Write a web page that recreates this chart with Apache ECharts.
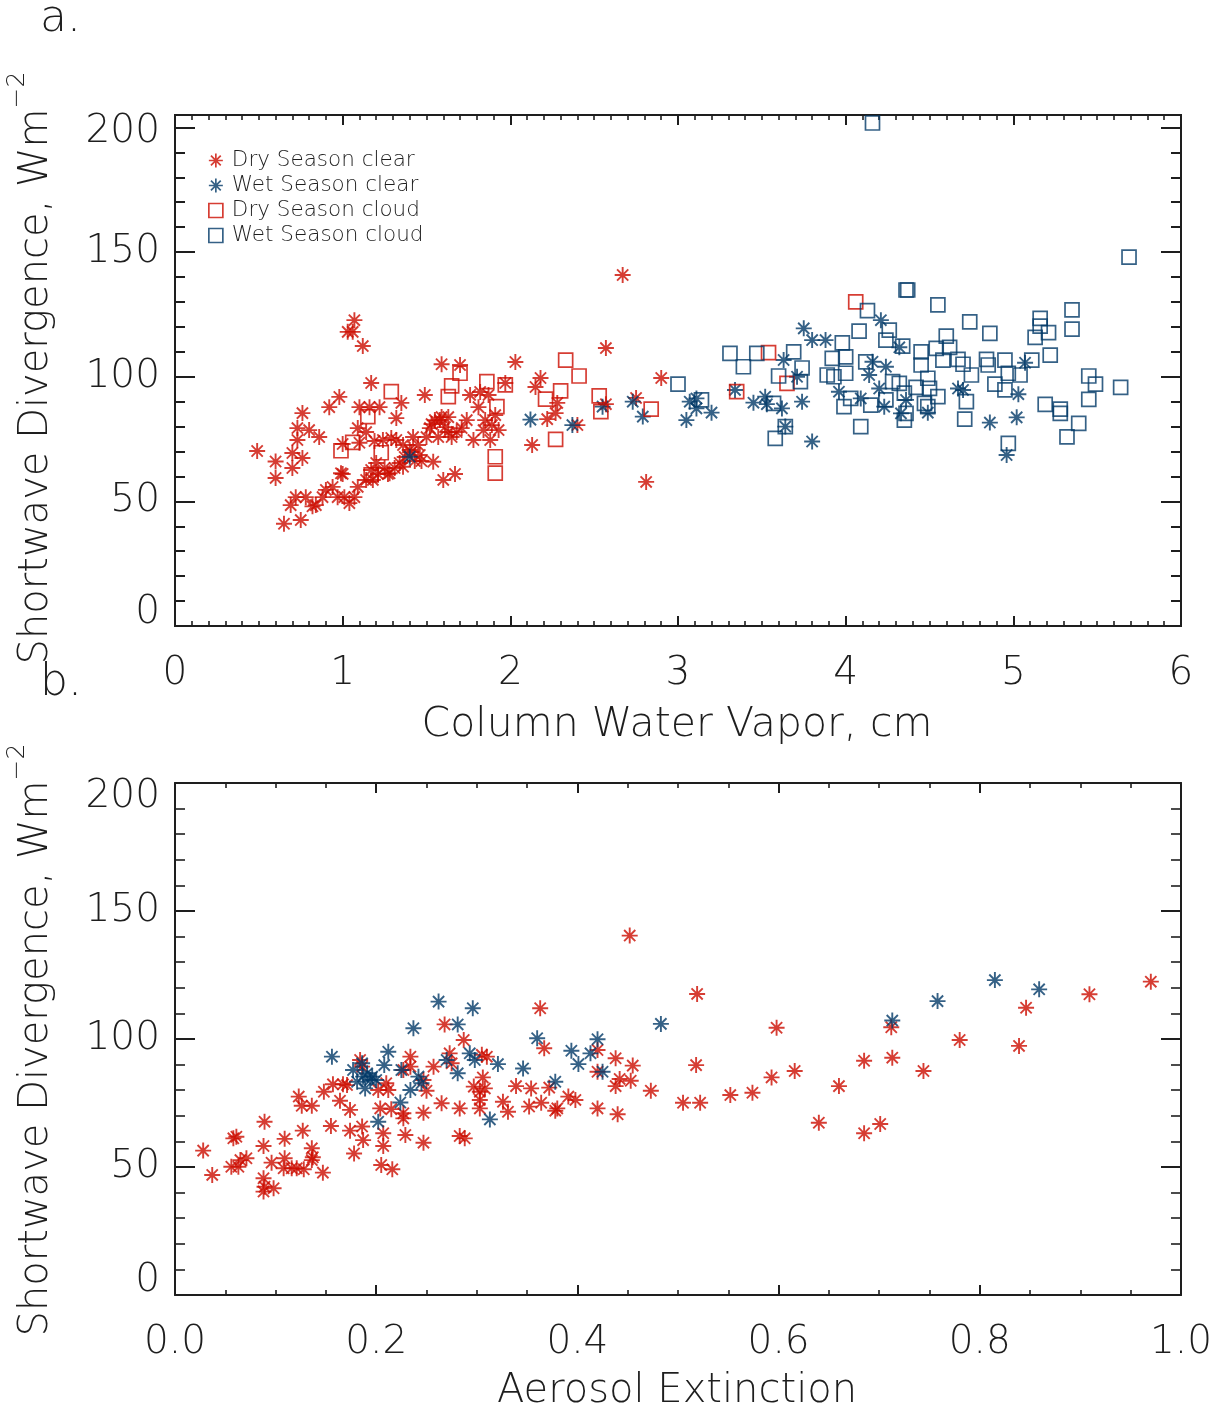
<!DOCTYPE html>
<html><head><meta charset="utf-8">
<script src="https://cdn.jsdelivr.net/npm/echarts@6/dist/echarts.min.js"></script>
<style>html,body{margin:0;padding:0;background:#fff}#c{width:1220px;height:1416px}</style>
</head><body><div id="c"></div>
<script>
// ---------- DATA ----------
const legendNames = ['Dry Season clear','Wet Season clear','Dry Season cloud','Wet Season cloud'];
const xTicksA = [0,1,2,3,4,5,6];
const xTicksB = ['0.0','0.2','0.4','0.6','0.8','1.0'];
const yTicks = [0,50,100,150,200];

// Panel a: x = column water vapor (cm), y = shortwave divergence (W m^-2)
const aDryClear = [[0.49,70.2],[0.60,66],[0.60,59.4],[0.65,41],[0.69,48.5],[0.70,69.4],[0.70,63.4],[0.72,51.7],[0.73,79.4],[0.73,74.6],[0.75,42.5],[0.76,85.4],[0.76,67.4],[0.78,51.7],[0.80,78.6],[0.82,48],[0.84,48.5],[0.86,75.8],[0.88,51.7],[0.90,54.6],[0.92,87.8],[0.94,55.8],[0.97,51.7],[0.98,91.9],[1.00,73],[1.00,61],[1.01,51.7],[1.03,118],[1.04,49.3],[1.06,118],[1.07,122.7],[1.07,51.7],[1.09,79.4],[1.09,55.8],[1.10,87.8],[1.12,112.3],[1.14,77.8],[1.14,58.6],[1.16,87.8],[1.17,97.5],[1.17,62.6],[1.19,74.2],[1.20,65.4],[1.21,61],[1.22,87.8],[1.24,74.6],[1.25,63.4],[1.27,61],[1.29,75.4],[1.31,63.4],[1.32,74.6],[1.32,83.4],[1.34,65.4],[1.35,89.5],[1.36,72.6],[1.37,67.8],[1.40,70.6],[1.42,75.8],[1.43,66.2],[1.45,72.6],[1.47,66.2],[1.49,92.7],[1.50,75.8],[1.52,79.4],[1.55,82.6],[1.57,75.8],[1.58,82.6],[1.59,105],[1.59,83.8],[1.60,58.6],[1.61,79.8],[1.63,77.8],[1.65,75.8],[1.67,61],[1.70,104.7],[1.71,79.4],[1.74,82.6],[1.76,92.7],[1.78,74.6],[1.81,87.8],[1.82,93.9],[1.84,78.6],[1.85,82.6],[1.87,92.7],[1.88,74.6],[1.89,80.6],[1.91,84.6],[1.93,78.6],[1.97,97.5],[2.03,105.9],[2.13,72.6],[2.15,95.9],[2.18,99.5],[2.22,83],[2.27,85.4],[2.28,89.5],[2.40,80.6],[2.57,89],[2.57,111.5],[2.67,140.8],[2.75,91.5],[2.81,57.8],[2.90,99.5],[1.41,69.8],[1.46,68.6],[1.53,81],[1.63,83.8],[1.68,77.8],[1.18,58.6],[1.28,61.3],[1.36,63.9],[1.54,65.9],[0.99,61.3],[1.10,73.5]];
const aWetClear = [[1.40,67.9],[2.12,82.8],[2.37,80.6],[2.55,88],[2.73,90],[2.79,84],[3.05,82.6],[3.07,90],[3.11,91.3],[3.11,87.3],[3.20,85.6],[3.34,94.7],[3.45,89.6],[3.52,92],[3.53,89],[3.62,87.3],[3.63,106.7],[3.71,100],[3.74,90],[3.75,119.4],[3.64,80],[3.80,114.7],[3.88,114.7],[3.80,74],[3.96,94],[4.09,91.3],[4.14,100.7],[4.16,106],[4.21,122.7],[4.24,104],[4.20,95.3],[4.23,88],[4.32,111.8],[4.36,90.7],[4.33,85.3],[4.49,85.6],[4.67,95.3],[4.70,94.7],[4.86,81.6],[5.02,83.7],[5.03,93],[5.07,105.6],[4.96,68.6]];
const aDryCloud = [[1.29,94],[1.65,96.3],[1.70,101.4],[1.63,92],[1.86,98],[0.99,70.3],[1.06,73.7],[1.23,69.5],[1.15,84],[1.17,60.6],[1.91,61.3],[1.91,67.9],[1.92,88],[1.97,96.7],[2.33,106.7],[2.41,100.3],[2.30,94.3],[2.21,91],[2.27,74.9],[2.53,92.3],[2.54,86],[2.84,87],[3.35,94],[3.65,97.3],[3.54,109.7],[4.06,130]];
const aWetCloud = [[3.31,109.4],[3.39,104],[3.47,109.4],[3.69,110],[3.00,97],[3.14,90.7],[3.58,75.3],[3.57,89.3],[3.74,103.5],[3.60,100.3],[3.64,80],[3.73,98],[3.89,100.7],[3.93,100],[3.98,113.6],[3.92,107.4],[4.00,108],[4.00,101.4],[3.99,88],[4.03,91.3],[4.08,118.3],[4.13,126.5],[4.09,80],[4.12,106],[4.15,88.6],[4.24,114.7],[4.26,118.7],[4.34,112.3],[4.36,134.8],[4.37,134.8],[4.32,97.3],[4.28,98],[4.24,90.7],[4.35,93.4],[4.36,85.3],[4.35,82.6],[4.45,110],[4.45,104.7],[4.42,95.7],[4.49,99.4],[4.50,95.3],[4.47,89.3],[4.49,88],[4.55,128.8],[4.54,111.4],[4.58,106.7],[4.55,92],[4.60,116.3],[4.62,111.8],[4.67,107],[4.70,105],[4.72,90],[4.71,83],[4.74,122],[4.75,100.7],[4.84,107],[4.86,117.4],[4.85,104.7],[4.89,97],[4.95,106.7],[4.97,101.4],[4.95,94.7],[4.97,73.3],[5.16,123.4],[5.16,120.3],[5.21,117.7],[5.13,115.8],[5.22,108.7],[5.19,88.9],[5.28,87],[5.28,85.3],[5.35,126.8],[5.35,119.1],[5.45,100.3],[5.49,97],[5.45,90.9],[5.39,81.3],[5.32,75.9],[5.64,95.7],[5.69,148],[4.16,201.8],[5.11,106.7],[5.04,100.7]];

// Panel b: x = aerosol extinction, y = shortwave divergence (clear sky only)
const bDryClear = [[0.028,56.4],[0.037,46.9],[0.058,61.2],[0.061,61.8],[0.056,50.1],[0.065,52.7],[0.071,53.4],[0.063,50.1],[0.089,67.7],[0.088,58.2],[0.088,45.6],[0.089,42.3],[0.088,40.4],[0.098,41.7],[0.096,51.7],[0.108,49.5],[0.109,53.4],[0.109,61],[0.116,49.5],[0.121,49.5],[0.128,49.1],[0.127,64.2],[0.123,77.5],[0.126,73.9],[0.136,73.9],[0.136,57.3],[0.137,53.8],[0.136,52.7],[0.147,47.8],[0.148,79.4],[0.157,82.3],[0.167,82.3],[0.171,82],[0.164,75.9],[0.155,66],[0.174,72.3],[0.178,55.3],[0.174,64.2],[0.186,65.8],[0.187,60.5],[0.184,91.8],[0.186,89.2],[0.202,80.1],[0.210,82.7],[0.212,80.1],[0.204,72.9],[0.215,72.6],[0.227,71],[0.207,63.2],[0.207,58.2],[0.205,50.8],[0.216,49.1],[0.229,62.5],[0.227,69],[0.234,93.1],[0.227,87.9],[0.234,89.2],[0.247,59.5],[0.247,71.2],[0.247,84],[0.250,79.8],[0.257,89.2],[0.265,74.9],[0.268,105.7],[0.273,94.4],[0.275,90.5],[0.287,99.6],[0.283,72.9],[0.283,62.1],[0.288,61.2],[0.297,81.4],[0.303,79.4],[0.308,80.7],[0.306,85],[0.303,76.2],[0.303,72.9],[0.305,93.8],[0.310,93.1],[0.326,75.5],[0.331,71.6],[0.452,140.4],[0.519,117.6],[0.363,112],[0.367,96.4],[0.598,104.4],[0.518,89.8],[0.712,104.6],[0.713,92.7],[0.685,91.5],[0.780,99.6],[0.839,97.3],[0.846,112.2],[0.909,117.5],[0.970,122.4],[0.744,87.5],[0.660,81.6],[0.616,87.5],[0.593,85],[0.574,79],[0.552,78.1],[0.522,75.1],[0.505,75.1],[0.640,67.3],[0.685,63.2],[0.701,66.8],[0.473,79.8],[0.455,89.6],[0.453,83.7],[0.438,92.5],[0.442,84.4],[0.438,81.6],[0.440,70.6],[0.420,95.7],[0.420,87.2],[0.420,72.9],[0.398,76.2],[0.391,77.5],[0.380,72.9],[0.378,72],[0.372,81],[0.364,75.1],[0.354,80.7],[0.352,73.6],[0.339,81.6]];
const bWetClear = [[0.156,93.1],[0.177,87.9],[0.186,90.5],[0.187,85.3],[0.191,86.6],[0.194,84],[0.189,80.7],[0.181,83.3],[0.200,84],[0.196,85.3],[0.202,67.7],[0.208,89.8],[0.212,95],[0.225,87.9],[0.234,80.1],[0.237,104.2],[0.242,85.3],[0.245,82.7],[0.224,75.2],[0.262,114.6],[0.281,105.7],[0.270,91.8],[0.281,86.6],[0.296,112],[0.293,94.4],[0.298,91.8],[0.321,90.2],[0.313,68.6],[0.346,88.5],[0.360,100.3],[0.378,83.3],[0.394,95.4],[0.401,90.2],[0.413,94.4],[0.420,99.9],[0.425,87.2],[0.483,105.9],[0.713,107.2],[0.758,114.8],[0.815,123],[0.859,119.4]];

// ---------- STYLE ----------
const RED = '#cc0c00', BLUE = '#023a68', INK = '#1e1e1e';
const FONT = "'DejaVu Sans', sans-serif";
const FW = 200;
const AST = 'path://M10 0L10 20M0 10L20 10M3 3L17 17M3 17L17 3';

const chart = echarts.init(document.getElementById('c'), null, {renderer: 'canvas'});

function xAxis(grid, pos, max, interval, minorSplit, labels, fmt) {
  return {
    type: 'value', gridIndex: grid, position: pos, min: 0, max: max, interval: interval,
    axisLine: {show: true, onZero: false, lineStyle: {color: INK, width: 2}},
    axisTick: {show: true, inside: true, length: 10, lineStyle: {color: INK, width: 2}},
    minorTick: {show: true, splitNumber: minorSplit, length: 5, lineStyle: {color: INK, width: 1.6}},
    splitLine: {show: false}, minorSplitLine: {show: false},
    axisLabel: {show: labels, margin: 28, fontSize: 39, fontFamily: FONT, fontWeight: FW, color: INK, formatter: fmt}
  };
}
function yAxis(grid, pos, max, interval, tickLen, labels, fmt, rich, minor) {
  const o = {
    type: 'value', gridIndex: grid, position: pos, min: 0, max: max, interval: interval,
    axisLine: {show: true, onZero: false, lineStyle: {color: INK, width: 2}},
    axisTick: {show: true, inside: true, length: tickLen, lineStyle: {color: INK, width: 2}},
    splitLine: {show: false}, minorSplitLine: {show: false},
    axisLabel: {show: labels, margin: 15, fontSize: 39, fontFamily: FONT, fontWeight: FW, color: INK, formatter: fmt, rich: rich}
  };
  if (minor) o.minorTick = {show: true, splitNumber: 5, length: 10, lineStyle: {color: INK, width: 1.6}};
  return o;
}
const lab = (extra) => Object.assign({fontSize: 39, fontFamily: FONT, fontWeight: FW, color: INK}, extra);
const fmtA = v => {
  if (v > 200) return '';
  if (v === 0) return '{lo|0}';
  if (v === 200) return '{hi|200}';
  return String(v);
};
const fmtB = v => {
  if (v === 0) return '{lo|0}';
  if (v === 200) return '{hi|200}';
  return String(v);
};

function scat(name, data, xi, yi, sym, color, size, bw) {
  return {
    type: 'scatter', name: name, data: data, xAxisIndex: xi, yAxisIndex: yi,
    symbol: sym, symbolSize: size, clip: false,
    itemStyle: {color: 'rgba(0,0,0,0)', borderColor: color, borderWidth: bw},
    emphasis: {disabled: true}, animation: false
  };
}

function yTitle(y) {
  return {
    type: 'text', x: 37, y: y, rotation: Math.PI / 2,
    style: {
      text: '{m|Shortwave Divergence, Wm}{s|\u22122}',
      align: 'center', verticalAlign: 'middle', textAlign: 'center', textVerticalAlign: 'middle',
      rich: {
        m: {fontSize: 40, lineHeight: 64, fontFamily: FONT, fontWeight: FW, fill: INK},
        s: {fontSize: 25, lineHeight: 30, verticalAlign: 'top', fontFamily: FONT, fontWeight: FW, fill: INK}
      }
    }
  };
}
function plainText(txt, x, y, size, align) {
  return {type: 'text', x: x, y: y, style: {text: txt, fontSize: size, fontFamily: FONT, fontWeight: FW, fill: INK,
    align: align, textAlign: align, verticalAlign: 'middle', textVerticalAlign: 'middle'}};
}

const option = {
  backgroundColor: '#fff',
  animation: false,
  grid: [
    {left: 175, width: 1006, top: 115, height: 511},
    {left: 175, width: 1006, top: 783, height: 512}
  ],
  xAxis: [
    xAxis(0, 'bottom', 6, 1, 10, true, v => String(v)),
    xAxis(0, 'top', 6, 1, 10, false),
    xAxis(1, 'bottom', 1, 0.2, 4, true, v => v.toFixed(1)),
    xAxis(1, 'top', 1, 0.2, 4, false)
  ],
  yAxis: [
    yAxis(0, 'left', 205, 50, 20, true, fmtA, {lo: lab({padding: [0,0,26,0]}), hi: lab({padding: [8,0,0,0]})}),
    yAxis(0, 'left', 205, 10, 10, false),
    yAxis(0, 'right', 205, 50, 20, false),
    yAxis(0, 'right', 205, 10, 10, false),
    yAxis(1, 'left', 200, 50, 20, true, fmtB, {lo: lab({padding: [0,0,28,0]}), hi: lab({padding: [28,0,0,0]})}, true),
    yAxis(1, 'right', 200, 50, 20, false, null, null, true)
  ],
  legend: {
    data: legendNames, orient: 'vertical', left: 208, top: 148, itemWidth: 14, itemHeight: 14, itemGap: 0,
    padding: 0, selectedMode: false,
    itemStyle: {borderWidth: 1.7},
    textStyle: {fontSize: 21.5, fontFamily: FONT, fontWeight: FW, color: INK, lineHeight: 25, padding: [0,0,0,4]}
  },
  series: [
    scat(legendNames[0], aDryClear, 0, 0, AST, RED, 16, 1.9),
    scat(legendNames[1], aWetClear, 0, 0, AST, BLUE, 16, 1.9),
    scat(legendNames[2], aDryCloud, 0, 0, 'rect', RED, 14, 1.7),
    scat(legendNames[3], aWetCloud, 0, 0, 'rect', BLUE, 14, 1.7),
    scat('b dry clear', bDryClear, 2, 4, AST, RED, 16, 1.9),
    scat('b wet clear', bWetClear, 2, 4, AST, BLUE, 16, 1.9)
  ],
  graphic: [
    plainText('a.', 40, 20, 44, 'left'),
    plainText('b.', 40, 684, 44, 'left'),
    plainText('Column Water Vapor, cm', 677, 725, 41, 'center'),
    plainText('Aerosol Extinction', 677, 1392, 40, 'center'),
    yTitle(368),
    yTitle(1040)
  ]
};
chart.setOption(option);
</script></body></html>
